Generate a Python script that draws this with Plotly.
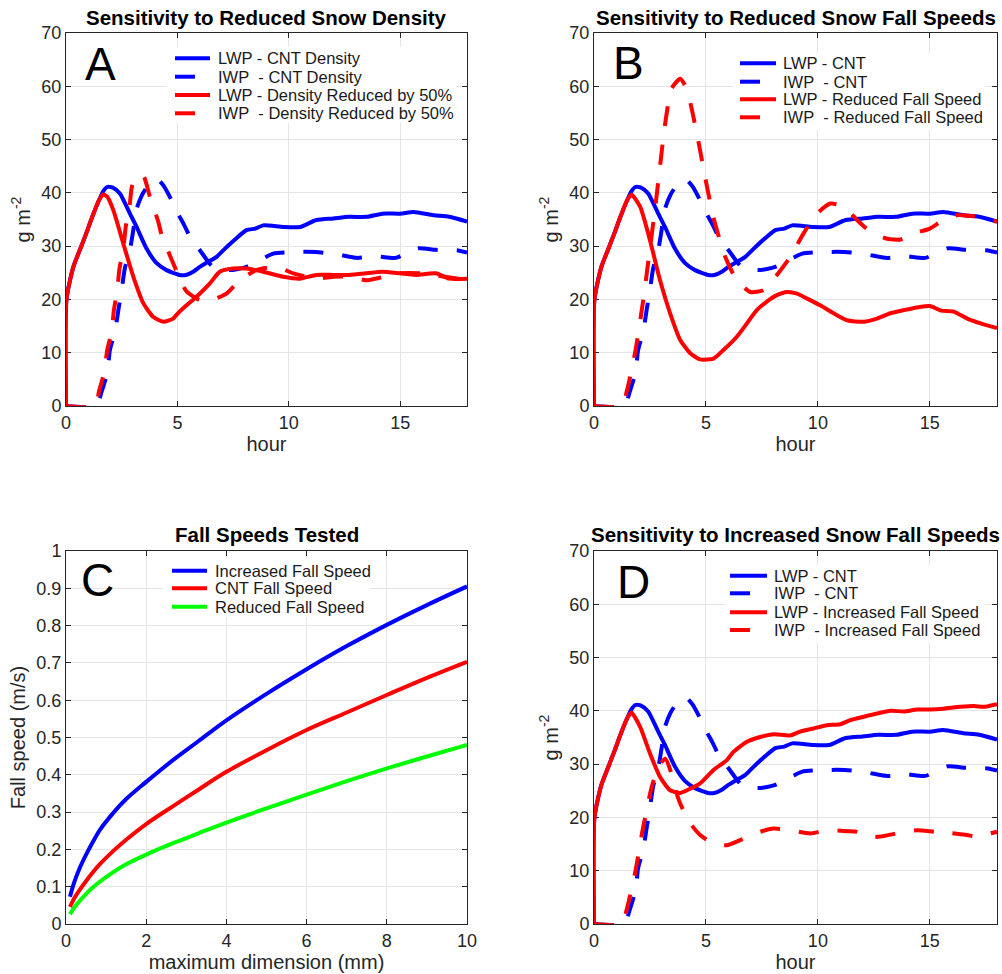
import plotly.graph_objects as go

# ------------------------------------------------------------------ data
# Panels A, B, D share the control (CNT) run
t_lwp_cnt = [0, 0.02, 0.33, 0.67, 0.9, 1.18, 1.48, 1.67, 1.85, 2.1, 2.42, 2.87, 3.17, 3.62, 4.07,
             4.51, 5.1, 5.38, 5.71, 6.0, 6.31, 6.76, 7.2, 7.65, 8.1, 8.5, 8.85, 9.75, 10.5, 11.24,
             12.0, 12.7, 13.5, 14.2, 15.0, 15.6, 16.5, 17.2, 18.0]
lwp_cnt = [0, 20, 26.1, 29.8, 32.3, 35.5, 38.6, 40.3, 41.1, 41.0, 39.9, 36.1, 33.6, 29.5, 26.8,
           25.5, 24.6, 24.6, 25.2, 26.1, 26.9, 28.0, 29.8, 31.5, 33.0, 33.3, 33.9, 33.6, 33.6, 34.9,
           35.2, 35.5, 35.5, 36.1, 36.1, 36.4, 35.8, 35.5, 34.6]

t_iwp_cnt = [0, 1.35, 1.6, 1.86, 1.97, 2.2, 2.35, 2.5, 2.64, 2.87, 3.02, 3.17, 3.4, 3.62, 3.9,
             4.14, 4.4, 4.74, 5.04, 5.3, 5.56, 6.05, 6.6, 7.35, 8.1, 8.85, 9.3, 10.3, 11.2, 12.1,
             13.05, 13.9, 14.8, 15.8, 16.6, 17.6, 18.0]
iwp_cnt = [0, 0, 2.7, 6.4, 10.5, 14.0, 18.0, 21.8, 25.8, 29.3, 33.0, 37.0, 39.5, 41.0, 42.2,
           42.4, 41.2, 38.6, 36.0, 34.0, 31.8, 29.0, 26.1, 25.5, 26.1, 27.7, 28.6, 28.9, 28.9, 28.5,
           27.8, 28.1, 27.8, 29.6, 29.3, 29.2, 28.8]

# Panel A: snow density reduced by 50%
t_lwp_dens = [0, 0.02, 0.33, 0.67, 0.9, 1.18, 1.48, 1.67, 1.85, 2.12, 2.57, 3.02, 3.47, 3.91,
              4.36, 4.81, 5.0, 5.41, 5.86, 6.46, 6.9, 7.5, 8.1, 8.85, 9.75, 10.5, 11.24, 12.0,
              12.7, 13.5, 14.2, 15.0, 15.7, 16.6, 17.2, 18.0]
lwp_dens = [0, 20, 26.1, 29.8, 32.3, 35.5, 38.6, 39.7, 39.3, 36.8, 30.5, 24.3, 19.3, 16.75,
            15.8, 16.4, 17.3, 18.9, 20.5, 23.0, 25.2, 25.8, 25.8, 25.2, 24.25, 23.9, 24.6, 24.6,
            24.6, 24.9, 25.2, 24.9, 24.6, 24.9, 23.9, 23.9]

t_iwp_dens = [0, 1.3, 1.49, 1.72, 1.85, 2.05, 2.15, 2.3, 2.4, 2.57, 2.68, 2.85, 2.95, 3.1, 3.32,
              3.5, 3.77, 4.14, 4.29, 4.66, 4.96, 5.2, 5.41, 6.0, 6.6, 7.2, 7.8, 8.55, 9.45, 10.2,
              11.24, 12.0, 12.7, 13.5, 13.9, 14.5, 15.0, 15.9, 16.5, 18.0]
iwp_dens = [0, 0, 2.9, 6.4, 10.5, 14.0, 18.0, 21.8, 25.8, 29.3, 33.6, 37.4, 41.0, 42.8, 43.5,
            43.0, 39.2, 34.6, 32.1, 28.3, 25.3, 23.0, 21.5, 19.9, 20.0, 21.1, 23.6, 25.5, 26.1, 24.9,
            23.9, 24.25, 24.25, 23.6, 23.9, 24.5, 24.9, 24.9, 24.6, 23.6]

# Panel B: reduced snow fall speed
t_lwp_slow = [0, 0.02, 0.33, 0.67, 0.9, 1.18, 1.48, 1.67, 2.06, 2.5, 2.95, 3.4, 3.85, 4.3, 4.74,
              5.34, 5.78, 6.38, 6.83, 7.27, 7.72, 8.17, 8.62, 9.07, 9.5, 10.1, 10.7, 11.3, 12.05,
              12.64, 13.24, 13.84, 14.43, 15.0, 15.5, 16.07, 16.67, 17.27, 18.0]
lwp_slow = [0, 20, 26.1, 29.8, 32.3, 35.5, 38.6, 39.7, 37.4, 31.1, 23.6, 17.4, 12.4, 9.9, 8.75,
            8.9, 10.5, 13.0, 15.5, 18.0, 19.6, 20.8, 21.4, 21.1, 20.2, 18.9, 17.4, 16.1, 15.8,
            16.4, 17.4, 18.0, 18.5, 18.75, 17.9, 17.7, 16.4, 15.5, 14.6]

t_iwp_slow = [0, 1.25, 1.46, 1.83, 2.2, 2.5, 2.73, 2.95, 3.1, 3.25, 3.45, 3.85, 4.14, 4.6, 4.96,
              5.33, 5.86, 6.38, 6.98, 7.57, 8.17, 8.77, 9.36, 9.96, 10.56, 11.15, 11.75, 12.35,
              13.1, 13.7, 14.3, 15.0, 15.6, 16.2, 16.97, 17.3, 18.0]
iwp_slow = [0, 0, 2.7, 9.9, 19.9, 29.6, 37.1, 45.0, 50.5, 55.0, 59.5, 61.4, 59.5, 51.0, 43.0,
            35.5, 28.0, 23.6, 21.4, 21.75, 24.6, 28.0, 32.4, 36.1, 38.0, 37.4, 34.9, 32.7,
            31.4, 31.25, 32.4, 33.3, 34.9, 35.8, 35.6, 35.2, 34.6]

# Panel D: increased snow fall speed
t_lwp_fast = [0, 0.02, 0.33, 0.67, 0.9, 1.18, 1.48, 1.67, 2.06, 2.5, 2.95, 3.4, 3.85, 4.3, 4.74,
              5.34, 5.93, 6.23, 6.83, 7.42, 8.02, 8.77, 9.2, 9.8, 10.4, 11.0, 11.45, 12.05, 12.64,
              13.24, 13.84, 14.43, 15.03, 15.6, 16.37, 16.97, 17.4, 18.0]
lwp_fast = [0, 20, 26.1, 29.8, 32.3, 35.5, 38.6, 39.7, 37.0, 32.0, 27.6, 25.1, 24.6, 25.4, 26.4,
            28.9, 30.75, 32.3, 34.2, 35.1, 35.6, 35.4, 36.1, 36.7, 37.3, 37.5, 38.25, 38.9, 39.5,
            40.0, 39.9, 40.25, 40.25, 40.4, 40.75, 40.9, 40.75, 41.25]

t_iwp_fast = [0, 1.25, 1.46, 1.83, 2.2, 2.58, 2.88, 3.18, 3.4, 3.55, 3.85, 4.3, 4.74, 5.34, 5.93,
              6.53, 7.42, 8.02, 8.77, 9.66, 10.4, 11.3, 11.75, 12.2, 12.8, 13.5, 14.43, 15.2, 15.9,
              16.67, 17.1, 17.7, 18.0]
iwp_fast = [0, 0, 2.7, 9.5, 18.25, 25.75, 29.5, 31.0, 29.0, 26.4, 22.6, 18.9, 16.7, 15.1, 14.8,
            15.75, 17.3, 17.9, 17.6, 17.0, 17.6, 17.4, 17.3, 16.4, 16.4, 17.0, 17.6, 17.3, 17.1,
            16.7, 16.4, 17.0, 17.3]

# Panel C: fall speed relations
size_mm = [0.1, 0.2, 0.35, 0.52, 0.68, 0.85, 1.18, 1.5, 2, 2.7, 3.3, 4, 5, 6, 7, 8, 9, 10]
vt_increased = [0.073, 0.11, 0.152, 0.19, 0.222, 0.253, 0.298, 0.335, 0.381, 0.442, 0.49,
                0.546, 0.617, 0.683, 0.745, 0.802, 0.855, 0.905]
vt_cnt = [0.046, 0.068, 0.093, 0.118, 0.14, 0.161, 0.196, 0.226, 0.268, 0.318, 0.36, 0.408,
          0.466, 0.52, 0.567, 0.614, 0.66, 0.703]
vt_reduced = [0.026, 0.043, 0.063, 0.083, 0.099, 0.114, 0.139, 0.16, 0.186, 0.218, 0.243, 0.272,
              0.31, 0.347, 0.383, 0.417, 0.449, 0.48]

titles = ["Sensitivity to Reduced Snow Density", "Sensitivity to Reduced Snow Fall Speeds",
          "Fall Speeds Tested", "Sensitivity to Increased Snow Fall Speeds"]
letters = ["A", "B", "C", "D"]
legend_A = ["LWP - CNT Density", "IWP\u00a0 - CNT Density",
            "LWP - Density Reduced by 50%", "IWP\u00a0 - Density Reduced by 50%"]
legend_B = ["LWP - CNT", "IWP\u00a0 - CNT", "LWP - Reduced Fall Speed", "IWP\u00a0 - Reduced Fall Speed"]
legend_C = ["Increased Fall Speed", "CNT Fall Speed", "Reduced Fall Speed"]
legend_D = ["LWP - CNT", "IWP\u00a0 - CNT", "LWP - Increased Fall Speed", "IWP\u00a0 - Increased Fall Speed"]

# ------------------------------------------------------------------ style
W, H = 1002, 974
BLUE, RED, GREEN = "#0000ff", "#ff0000", "#00ff00"
DASH = "20px,19px"
LW = 4
FONT = "Liberation Sans, Arial, Helvetica, sans-serif"
AXC = "#262626"


def px(x):
    return x / W


def py(y):
    return 1 - y / H


fig = go.Figure()


def add_line(x, y, color, dash, ax, smoothing=0.6):
    fig.add_trace(go.Scatter(
        x=x, y=y, mode="lines", showlegend=False, xaxis="x" + ax, yaxis="y" + ax,
        line=dict(color=color, width=LW, dash=dash, shape="spline", smoothing=smoothing),
        hoverinfo="skip"))


# Panel A
add_line(t_lwp_cnt, lwp_cnt, BLUE, "solid", "")
add_line(t_iwp_cnt, iwp_cnt, BLUE, DASH, "")
add_line(t_lwp_dens, lwp_dens, RED, "solid", "")
add_line(t_iwp_dens, iwp_dens, RED, DASH, "")
# Panel B
add_line(t_lwp_cnt, lwp_cnt, BLUE, "solid", "2")
add_line(t_iwp_cnt, iwp_cnt, BLUE, DASH, "2")
add_line(t_lwp_slow, lwp_slow, RED, "solid", "2")
add_line(t_iwp_slow, iwp_slow, RED, DASH, "2")
# Panel C
add_line(size_mm, vt_increased, BLUE, "solid", "3", 1.0)
add_line(size_mm, vt_cnt, RED, "solid", "3", 1.0)
add_line(size_mm, vt_reduced, GREEN, "solid", "3", 1.0)
# Panel D
add_line(t_lwp_cnt, lwp_cnt, BLUE, "solid", "4")
add_line(t_iwp_cnt, iwp_cnt, BLUE, DASH, "4")
add_line(t_lwp_fast, lwp_fast, RED, "solid", "4")
add_line(t_iwp_fast, iwp_fast, RED, DASH, "4")

XL, XR = [px(66), px(467)], [px(594), px(997)]
YT, YB = [py(406), py(33)], [py(924), py(551)]

common = dict(showline=True, linecolor=AXC, linewidth=1, mirror="ticks", ticks="inside",
              ticklen=5, tickcolor=AXC, tickwidth=1, showgrid=True, gridcolor="#e5e5e5",
              gridwidth=1, zeroline=False, layer="below traces", automargin=False,
              tickfont=dict(family=FONT, size=18, color=AXC))
title_font = dict(family=FONT, size=20, color=AXC)

hour_axis = dict(range=[0, 18], tick0=0, dtick=5,
                 title=dict(text="hour", font=title_font, standoff=4), **common)
gm_axis = dict(range=[0, 70], tick0=0, dtick=10,
               title=dict(text="g m<sup>-2</sup>", font=title_font, standoff=5), **common)

fig.update_layout(
    width=W, height=H, margin=dict(l=0, r=0, t=0, b=0, pad=0, autoexpand=False),
    paper_bgcolor="white", plot_bgcolor="white", showlegend=False,
    font=dict(family=FONT, color=AXC),
    xaxis=dict(domain=XL, anchor="y", **hour_axis),
    yaxis=dict(domain=YT, anchor="x", **gm_axis),
    xaxis2=dict(domain=XR, anchor="y2", **hour_axis),
    yaxis2=dict(domain=YT, anchor="x2", **gm_axis),
    xaxis3=dict(domain=XL, anchor="y3", range=[0, 10], tick0=0, dtick=2,
                title=dict(text="maximum dimension (mm)", font=title_font, standoff=4), **common),
    yaxis3=dict(domain=YB, anchor="x3", range=[0, 1], tick0=0, dtick=0.1,
                title=dict(text="Fall speed (m/s)", font=title_font, standoff=5), **common),
    xaxis4=dict(domain=XR, anchor="y4", **hour_axis),
    yaxis4=dict(domain=YB, anchor="x4", **gm_axis),
)

annotations = []
shapes = []

# titles
for txt, (cx, cy) in zip(titles, [(266.5, 17), (795.5, 17), (266.5, 534), (795.5, 534)]):
    annotations.append(dict(text="<b>" + txt + "</b>", x=px(cx), y=py(cy), xref="paper", yref="paper",
                            xanchor="center", yanchor="middle", showarrow=False,
                            font=dict(family=FONT, size=20.5, color="black")))
# panel letters
for txt, (cx, cy) in zip(letters, [(100, 64), (628, 63), (97, 580), (633, 582)]):
    annotations.append(dict(text=txt, x=px(cx), y=py(cy), xref="paper", yref="paper",
                            xanchor="center", yanchor="middle", showarrow=False,
                            font=dict(family=FONT, size=46, color="black")))


def manual_legend(box, x0, x1, xt, rows, labels, colors, dashes):
    bx0, by0, bx1, by1 = box
    shapes.append(dict(type="rect", xref="paper", yref="paper", x0=px(bx0), x1=px(bx1),
                       y0=py(by1), y1=py(by0), fillcolor="white", line=dict(width=0), layer="above"))
    for lab, yy, c, d in zip(labels, rows, colors, dashes):
        shapes.append(dict(type="line", xref="paper", yref="paper", x0=px(x0), x1=px(x1),
                           y0=py(yy), y1=py(yy), line=dict(color=c, width=LW, dash=d), layer="above"))
        annotations.append(dict(text=lab, x=px(xt), y=py(yy), xref="paper", yref="paper",
                                xanchor="left", yanchor="middle", showarrow=False,
                                font=dict(family=FONT, size=16.5, color="#1a1a1a")))


cols4 = [BLUE, BLUE, RED, RED]
dash4 = ["solid", DASH, "solid", DASH]
manual_legend((167, 47, 457, 123), 175, 210, 216, [58.3, 76.7, 95, 113.3], legend_A, cols4, dash4)
manual_legend((733, 53, 985, 130), 740, 776, 781, [63.3, 81.7, 99.3, 117.3], legend_B, cols4, dash4)
manual_legend((163, 558, 370, 617), 172, 207, 213, [570.7, 588.3, 606.7], legend_C,
              [BLUE, RED, GREEN], ["solid"] * 3)
manual_legend((725, 565, 985, 643), 730, 767, 772, [575.7, 593.3, 612.3, 630], legend_D, cols4, dash4)

fig.update_layout(annotations=annotations, shapes=shapes)
fig.write_html("out.html", config={"displayModeBar": False},
               post_script="document.body.style.margin='0px';")
